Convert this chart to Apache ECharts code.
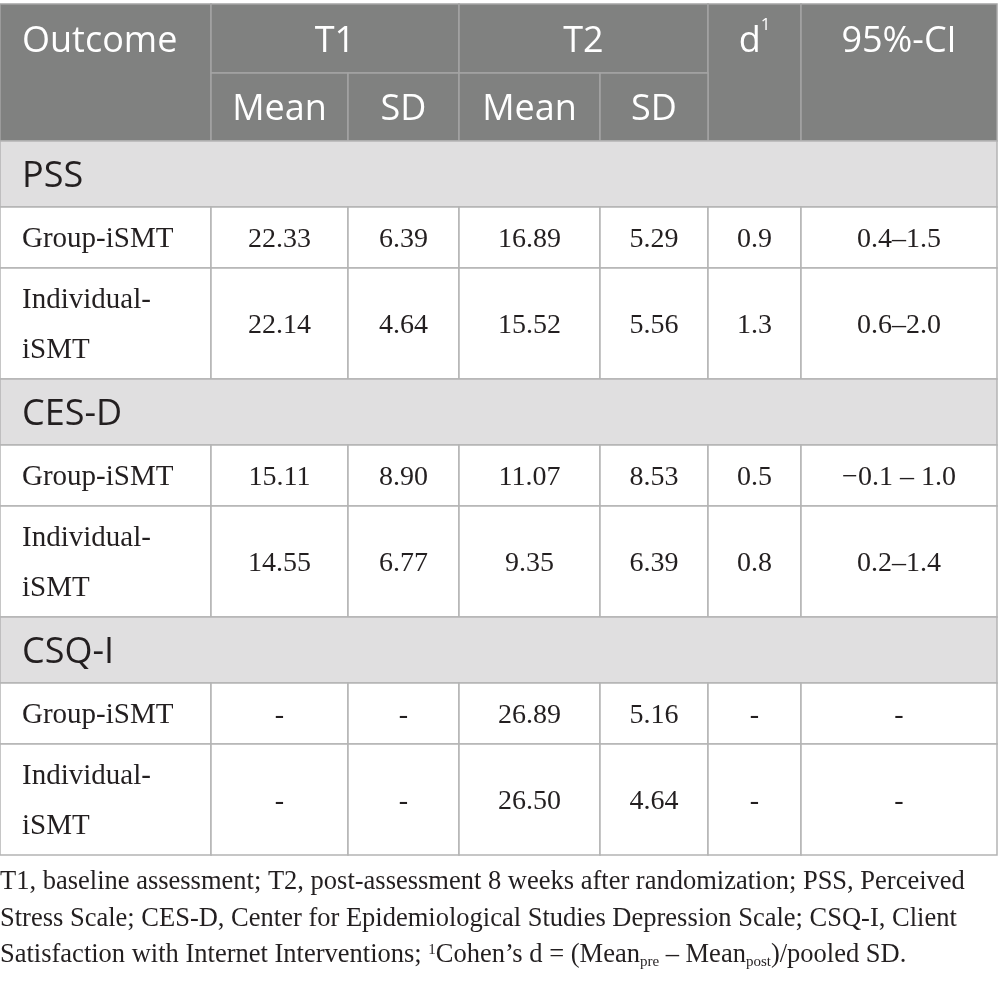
<!DOCTYPE html>
<html><head><meta charset="utf-8">
<script src="https://cdn.jsdelivr.net/npm/echarts@6/dist/echarts.min.js"></script>
<style>html,body{margin:0;padding:0;background:#fff}#c{width:998px;height:983px}</style>
</head><body><div id="c"></div>
<script>
// ---- data ----
const headerTop = ['Outcome', 'T1', 'T2', 'd', '95%-CI'];
const headerSub = ['Mean', 'SD', 'Mean', 'SD'];
const sections = ['PSS', 'CES-D', 'CSQ-I'];
const groups = ['Group-iSMT', 'Individual-\niSMT'];
const t1Mean = [['22.33', '22.14'], ['15.11', '14.55'], ['-', '-']];
const t1SD   = [['6.39', '4.64'],   ['8.90', '6.77'],   ['-', '-']];
const t2Mean = [['16.89', '15.52'], ['11.07', '9.35'],  ['26.89', '26.50']];
const t2SD   = [['5.29', '5.56'],   ['8.53', '6.39'],   ['5.16', '4.64']];
const dVal   = [['0.9', '1.3'],     ['0.5', '0.8'],     ['-', '-']];
const ciVal  = [['0.4\u20131.5', '0.6\u20132.0'], ['\u22120.1 \u2013 1.0', '0.2\u20131.4'], ['-', '-']];
const footnote = [
  'T1, baseline assessment; T2, post-assessment 8 weeks after randomization; PSS, Perceived',
  'Stress Scale; CES-D, Center for Epidemiological Studies Depression Scale; CSQ-I, Client',
  'Satisfaction with Internet Interventions; {sup|1}Cohen\u2019s d = (Mean{sub|pre} \u2013 Mean{sub|post})/pooled SD.'
];

// ---- layout ----
const colX = [0, 211, 348, 459, 600, 708, 801, 997];
const headY = [4, 73, 141];
const secH = 66, grpH = 61, indH = 111;
const SANS = '"Open Sans", "Noto Sans", sans-serif';
const SERIF = '"Liberation Serif", "DejaVu Serif", serif';
const HEAD_BG = '#808180', HEAD_LINE = '#a4a4a4', SEC_BG = '#e0dfe0', LINE = '#b4b4b4', TXT = '#231f20';

const cells = [];
// header
cells.push({x0: colX[0], x1: colX[1], y0: headY[0], y1: headY[2], ty: (headY[0] + headY[1]) / 2, text: headerTop[0], kind: 'head', left: true});
cells.push({x0: colX[1], x1: colX[3], y0: headY[0], y1: headY[1], text: headerTop[1], kind: 'head'});
cells.push({x0: colX[3], x1: colX[5], y0: headY[0], y1: headY[1], text: headerTop[2], kind: 'head'});
cells.push({x0: colX[5], x1: colX[6], y0: headY[0], y1: headY[2], ty: (headY[0] + headY[1]) / 2, text: '{m|' + headerTop[3] + '}{sup|1}', kind: 'head'});
cells.push({x0: colX[6], x1: colX[7], y0: headY[0], y1: headY[2], ty: (headY[0] + headY[1]) / 2, text: headerTop[4], kind: 'head'});
headerSub.forEach((t, i) => cells.push({x0: colX[1 + i], x1: colX[2 + i], y0: headY[1], y1: headY[2], text: t, kind: 'head'}));
// body
let y = headY[2];
sections.forEach((s, si) => {
  cells.push({x0: colX[0], x1: colX[7], y0: y, y1: y + secH, text: s, kind: 'sec', left: true});
  y += secH;
  groups.forEach((g, gi) => {
    const h = gi === 0 ? grpH : indH;
    const vals = [t1Mean[si][gi], t1SD[si][gi], t2Mean[si][gi], t2SD[si][gi], dVal[si][gi], ciVal[si][gi]];
    cells.push({x0: colX[0], x1: colX[1], y0: y, y1: y + h, text: g, kind: 'body', left: true, label: true});
    vals.forEach((v, vi) => cells.push({x0: colX[1 + vi], x1: colX[2 + vi], y0: y, y1: y + h, text: v, kind: 'body'}));
    y += h;
  });
});

const chart = echarts.init(document.getElementById('c'), null, {renderer: 'canvas'});
chart.setOption({
  animation: false,
  grid: {left: 0, right: 0, top: 0, bottom: 0},
  xAxis: {type: 'value', min: 0, max: 998, show: false},
  yAxis: {type: 'value', min: 0, max: 983, inverse: true, show: false},
  series: [{
    type: 'custom',
    data: cells.map((c, i) => [c.x0, c.y0, i]),
    renderItem: function (params, api) {
      const c = cells[params.dataIndex];
      const p0 = api.coord([c.x0, c.y0]);
      const p1 = api.coord([c.x1, c.y1]);
      const isHead = c.kind === 'head';
      const isSans = isHead || c.kind === 'sec';
      const fill = isHead ? HEAD_BG : (c.kind === 'sec' ? SEC_BG : '#ffffff');
      const stroke = isHead ? HEAD_LINE : LINE;
      const ty = (c.ty !== undefined ? api.coord([0, c.ty])[1] : (p0[1] + p1[1]) / 2) + (isSans ? 3 : 2);
      const tx = c.left ? p0[0] + 22 : (p0[0] + p1[0]) / 2;
      const fam = isSans ? SANS : SERIF;
      const size = isSans ? 36 : (c.label ? 29 : 28);
      return {
        type: 'group',
        children: [
          {type: 'rect', shape: {x: p0[0], y: p0[1], width: p1[0] - p0[0], height: p1[1] - p0[1]},
           style: {fill: fill, stroke: stroke, lineWidth: 1.5}},
          {type: 'text', z2: 10, style: {
            text: c.text, x: tx, y: ty,
            fill: isHead ? '#ffffff' : TXT,
            fontFamily: fam, fontSize: size, lineHeight: 50,
            align: c.left ? 'left' : 'center', verticalAlign: 'middle',
            rich: {
              m: {fontFamily: fam, fontSize: size, fill: '#ffffff'},
              sup: {fontFamily: fam, fontSize: 17, fill: '#ffffff', verticalAlign: 'top', lineHeight: 17, padding: [0, 0, 14, 0]}
            }
          }}
        ]
      };
    }
  }],
  graphic: [{
    type: 'text', left: 0, top: 864,
    style: {
      text: footnote.join('\n'),
      fill: TXT, fontFamily: SERIF, fontSize: 26.5, lineHeight: 36.5,
      rich: {
        sup: {fontFamily: SERIF, fontSize: 15, fill: TXT, lineHeight: 36.5, padding: [0, 0, 11, 0]},
        sub: {fontFamily: SERIF, fontSize: 15, fill: TXT, lineHeight: 36.5, padding: [13, 0, 0, 0]}
      }
    }
  }]
});
</script></body></html>
